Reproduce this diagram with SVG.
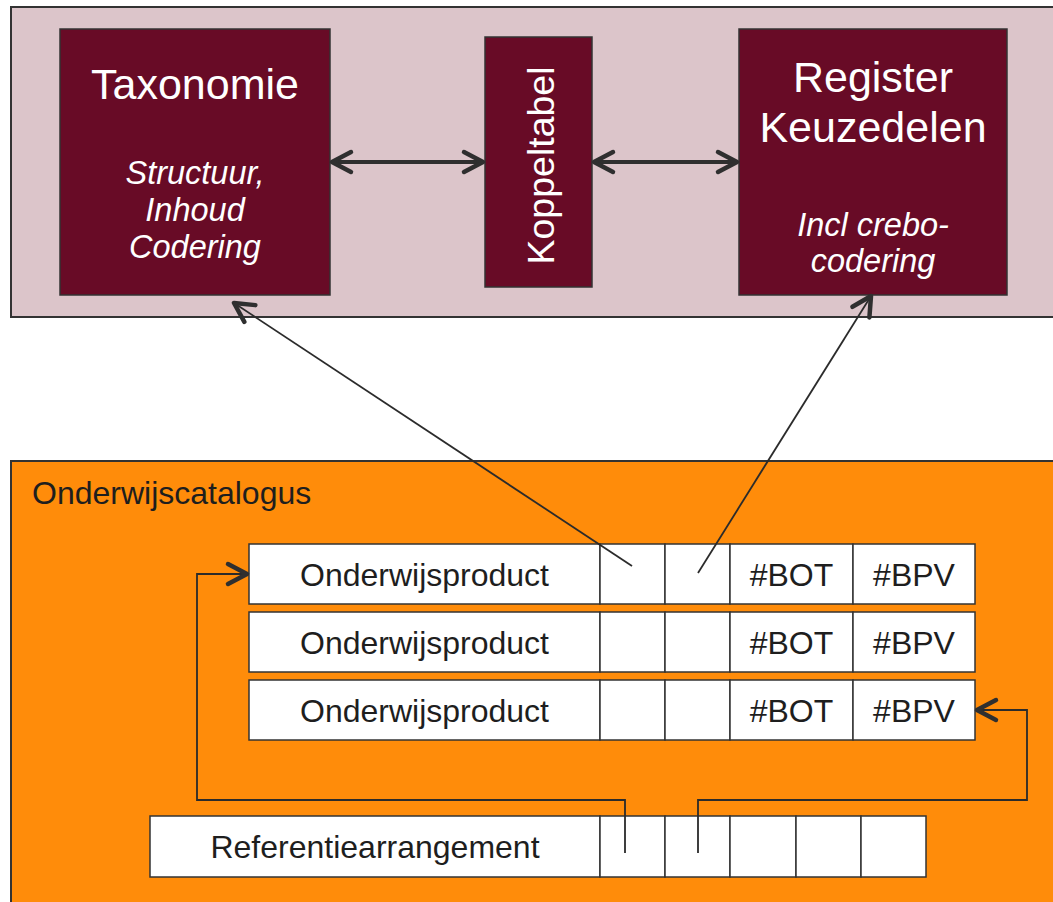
<svg xmlns="http://www.w3.org/2000/svg" width="1053" height="902" viewBox="0 0 1053 902">
<style>
text{font-family:"Liberation Sans",Arial,sans-serif}
.panel{stroke:#333;stroke-width:2}
.dark{fill:#680b26;stroke:#333;stroke-width:1.5}
.cell{fill:#fff;stroke:#333;stroke-width:1.5}
.wt{fill:#fff;text-anchor:middle}
.title{font-size:43px}
.it{font-size:32.5px;font-style:italic}
.bt{fill:#1e1e1e;font-size:32px;text-anchor:middle}
.thick{fill:none;stroke:#2f2f2f;stroke-width:4}
.thin{fill:none;stroke:#2b2b2b;stroke-width:1.8}
</style>
<defs>
<marker id="chev" viewBox="-24 -14 28 28" markerWidth="28" markerHeight="28" refX="0" refY="0" orient="auto-start-reverse" markerUnits="userSpaceOnUse">
<path d="M-19,-10 L0,0 L-19,10" fill="none" stroke="#2f2f2f" stroke-width="4.5" stroke-linecap="round" stroke-linejoin="round"/>
</marker>
</defs>
<rect class="panel" x="11" y="7" width="1060" height="310" fill="#dcc5ca"/>
<rect class="panel" x="11" y="461" width="1060" height="460" fill="#ff8c0a"/>
<g id="taxonomie">
<rect class="dark" x="60" y="29" width="270" height="266"/>
<text class="wt title" x="195" y="99">Taxonomie</text>
<text class="wt it" x="195" y="184">Structuur,</text>
<text class="wt it" x="195" y="221">Inhoud</text>
<text class="wt it" x="195" y="258">Codering</text>
</g>
<g id="koppeltabel">
<rect class="dark" x="485" y="37" width="107" height="250"/>
<text class="wt" font-size="37.5" transform="translate(554,165.5) rotate(-90)" x="0" y="0">Koppeltabel</text>
</g>
<g id="register">
<rect class="dark" x="739" y="29" width="268" height="266"/>
<text class="wt title" x="873" y="92">Register</text>
<text class="wt title" x="873" y="142">Keuzedelen</text>
<text class="wt it" x="873" y="236">Incl crebo-</text>
<text class="wt it" x="873" y="272">codering</text>
</g>
<g id="onderwijscatalogus">
<text x="32" y="504" font-size="32" fill="#1e1e1e">Onderwijscatalogus</text>
</g>
<g id="product1">
<rect class="cell" x="249" y="544" width="351" height="60"/>
<rect class="cell" x="600" y="544" width="65" height="60"/>
<rect class="cell" x="665" y="544" width="65" height="60"/>
<rect class="cell" x="730" y="544" width="123" height="60"/>
<rect class="cell" x="853" y="544" width="122" height="60"/>
<text class="bt" x="424.5" y="586">Onderwijsproduct</text>
<text class="bt" x="791.5" y="586">#BOT</text>
<text class="bt" x="914" y="586">#BPV</text>
</g>
<g id="product2">
<rect class="cell" x="249" y="612" width="351" height="60"/>
<rect class="cell" x="600" y="612" width="65" height="60"/>
<rect class="cell" x="665" y="612" width="65" height="60"/>
<rect class="cell" x="730" y="612" width="123" height="60"/>
<rect class="cell" x="853" y="612" width="122" height="60"/>
<text class="bt" x="424.5" y="654">Onderwijsproduct</text>
<text class="bt" x="791.5" y="654">#BOT</text>
<text class="bt" x="914" y="654">#BPV</text>
</g>
<g id="product3">
<rect class="cell" x="249" y="680" width="351" height="60"/>
<rect class="cell" x="600" y="680" width="65" height="60"/>
<rect class="cell" x="665" y="680" width="65" height="60"/>
<rect class="cell" x="730" y="680" width="123" height="60"/>
<rect class="cell" x="853" y="680" width="122" height="60"/>
<text class="bt" x="424.5" y="722">Onderwijsproduct</text>
<text class="bt" x="791.5" y="722">#BOT</text>
<text class="bt" x="914" y="722">#BPV</text>
</g>
<g id="referentiearrangement">
<rect class="cell" x="150" y="816" width="450" height="61"/>
<rect class="cell" x="600" y="816" width="65" height="61"/>
<rect class="cell" x="665" y="816" width="65" height="61"/>
<rect class="cell" x="730" y="816" width="66" height="61"/>
<rect class="cell" x="796" y="816" width="65" height="61"/>
<rect class="cell" x="861" y="816" width="65" height="61"/>
<text class="bt" x="375" y="858">Referentiearrangement</text>
</g>
<g id="connectors">
<line class="thick" x1="332" y1="162" x2="483" y2="162" marker-start="url(#chev)" marker-end="url(#chev)"/>
<line class="thick" x1="594" y1="162" x2="737" y2="162" marker-start="url(#chev)" marker-end="url(#chev)"/>
<line class="thin" x1="632" y1="566" x2="234" y2="303" marker-end="url(#chev)"/>
<line class="thin" x1="698" y1="573" x2="871" y2="296" marker-end="url(#chev)"/>
<polyline class="thin" points="625,853 625,800 197,800 197,574 247,574" marker-end="url(#chev)"/>
<polyline class="thin" points="698,853 698,800 1027,800 1027,710 977,710" marker-end="url(#chev)"/>
</g>
</svg>
